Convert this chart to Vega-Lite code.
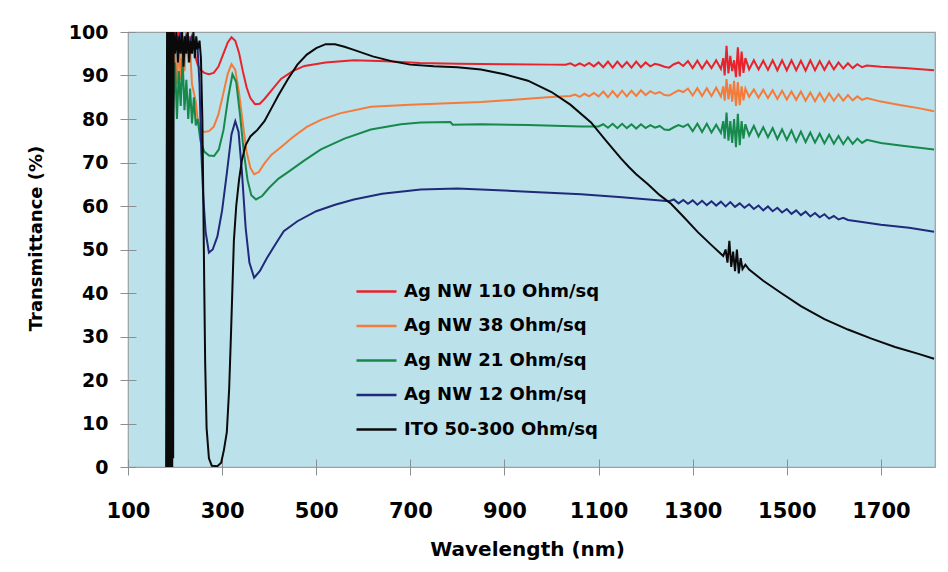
{
  "$schema": "https://vega.github.io/schema/vega-lite/v6.json",
  "width": 807,
  "height": 435,
  "autosize": {"type": "none"},
  "padding": {"left": 128, "top": 32, "right": 13, "bottom": 105},
  "background": "#ffffff",
  "config": {
    "view": {"fill": "#bbe1eb", "stroke": "#9aa0a4", "strokeWidth": 1.2},
    "axis": {
      "labelFont": "DejaVu Sans", "labelFontWeight": "bold", "labelColor": "#000000",
      "titleFont": "DejaVu Sans", "titleFontWeight": "bold", "titleColor": "#000000",
      "domain": false, "tickColor": "#8a8f93", "grid": false
    },
    "legend": {
      "labelFont": "DejaVu Sans", "labelFontWeight": "bold", "labelColor": "#000000"
    }
  },
  "datasets": {
    "red": [
      {"x":183,"y":25},{"x":186,"y":43},{"x":188,"y":95},{"x":192,"y":99},{"x":196,"y":96},{"x":200,"y":100},{"x":204,"y":97},{"x":208,"y":100},{"x":212,"y":96},{"x":216,"y":99},{"x":220,"y":97},{"x":224,"y":100},{"x":228,"y":95},{"x":232,"y":99},{"x":236,"y":96},{"x":240,"y":98},{"x":244,"y":94},{"x":248,"y":92.5},{"x":254,"y":91.3},{"x":262,"y":90.6},{"x":272,"y":90.3},{"x":282,"y":90.6},{"x":292,"y":92},{"x":302,"y":94.8},{"x":312,"y":97.6},{"x":320,"y":98.8},{"x":328,"y":98},{"x":336,"y":95.2},{"x":344,"y":91},{"x":352,"y":87.3},{"x":360,"y":84.8},{"x":370,"y":83.4},{"x":380,"y":83.5},{"x":390,"y":84.6},{"x":405,"y":86.6},{"x":425,"y":89.2},{"x":450,"y":91},{"x":475,"y":92.2},{"x":520,"y":93},{"x":580,"y":93.5},{"x":650,"y":93.3},{"x":720,"y":92.9},{"x":800,"y":92.7},{"x":900,"y":92.6},{"x":1000,"y":92.5},{"x":1030,"y":92.5},
      {"x":1040,"y":92.8},{"x":1050,"y":92.2},{"x":1060,"y":92.8},{"x":1070,"y":92.2},{"x":1080,"y":92.9},{"x":1090,"y":92.1},{"x":1100,"y":93.0},{"x":1110,"y":91.9},{"x":1120,"y":93.2},{"x":1130,"y":91.8},{"x":1140,"y":93.2},{"x":1150,"y":91.9},{"x":1160,"y":93.1},{"x":1170,"y":91.8},{"x":1180,"y":93.2},{"x":1190,"y":91.9},{"x":1200,"y":93.0},{"x":1210,"y":92.1},{"x":1220,"y":92.7},{"x":1230,"y":92.4},{"x":1240,"y":92.0},{"x":1250,"y":91.8},{"x":1260,"y":92.6},{"x":1270,"y":93.0},{"x":1280,"y":92.2},{"x":1290,"y":93.3},{"x":1300,"y":91.7},{"x":1310,"y":93.4},{"x":1320,"y":91.6},{"x":1330,"y":93.3},{"x":1340,"y":91.7},{"x":1350,"y":93.5},{"x":1360,"y":91.5},{"x":1365,"y":94},{"x":1368,"y":90},{"x":1372,"y":96.8},{"x":1376,"y":90.5},{"x":1380,"y":94.5},{"x":1384,"y":91},{"x":1388,"y":93.5},{"x":1392,"y":89.6},{"x":1396,"y":96.5},{"x":1400,"y":89.8},{"x":1404,"y":95.5},{"x":1408,"y":90.6},{"x":1412,"y":94},{"x":1420,"y":91.4},{"x":1430,"y":93.5},{"x":1440,"y":91.4},{"x":1450,"y":93.4},{"x":1460,"y":91.3},{"x":1470,"y":93.5},{"x":1480,"y":91.2},{"x":1490,"y":93.5},{"x":1500,"y":91.2},{"x":1510,"y":93.5},{"x":1520,"y":91.2},{"x":1530,"y":93.4},{"x":1540,"y":91.1},{"x":1550,"y":93.5},{"x":1560,"y":91.2},{"x":1570,"y":93.3},{"x":1580,"y":91.3},{"x":1590,"y":93.2},{"x":1600,"y":91.4},{"x":1610,"y":93.0},{"x":1620,"y":91.6},{"x":1630,"y":92.8},{"x":1640,"y":91.7},{"x":1650,"y":92.6},{"x":1660,"y":91.9},{"x":1670,"y":92.3},{"x":1700,"y":92.0},{"x":1750,"y":91.7},{"x":1813,"y":91.2}
    ],
    "orange": [
      {"x":183,"y":30},{"x":186,"y":43},{"x":188,"y":88},{"x":192,"y":92},{"x":196,"y":86},{"x":200,"y":95},{"x":204,"y":88},{"x":208,"y":97},{"x":212,"y":89},{"x":216,"y":99},{"x":220,"y":91},{"x":224,"y":100},{"x":228,"y":93},{"x":232,"y":96},{"x":236,"y":88},{"x":240,"y":86},{"x":244,"y":84},{"x":248,"y":80},{"x":254,"y":77.6},{"x":262,"y":77},{"x":272,"y":77.2},{"x":282,"y":78.2},{"x":292,"y":81},{"x":302,"y":85.6},{"x":312,"y":90.4},{"x":320,"y":92.6},{"x":328,"y":91.3},{"x":336,"y":86},{"x":344,"y":79},{"x":352,"y":72.5},{"x":360,"y":68.8},{"x":368,"y":67.3},{"x":378,"y":67.8},{"x":390,"y":69.8},{"x":405,"y":71.8},{"x":425,"y":73.5},{"x":450,"y":75.8},{"x":480,"y":78.2},{"x":510,"y":79.8},{"x":550,"y":81.3},{"x":616,"y":82.8},{"x":700,"y":83.3},{"x":780,"y":83.6},{"x":850,"y":83.9},{"x":920,"y":84.4},{"x":992,"y":85},{"x":1040,"y":85.3},
      {"x":1050,"y":85.6},{"x":1060,"y":85.1},{"x":1070,"y":85.8},{"x":1080,"y":85.2},{"x":1090,"y":86.0},{"x":1100,"y":85.2},{"x":1110,"y":86.3},{"x":1120,"y":85.0},{"x":1130,"y":86.4},{"x":1140,"y":85.1},{"x":1150,"y":86.5},{"x":1160,"y":85.2},{"x":1170,"y":86.5},{"x":1180,"y":85.3},{"x":1190,"y":86.6},{"x":1200,"y":85.5},{"x":1210,"y":86.4},{"x":1220,"y":85.8},{"x":1230,"y":86.2},{"x":1240,"y":85.5},{"x":1250,"y":85.4},{"x":1260,"y":86.0},{"x":1270,"y":86.6},{"x":1280,"y":86.2},{"x":1290,"y":87.0},{"x":1300,"y":85.4},{"x":1310,"y":87.1},{"x":1320,"y":85.3},{"x":1330,"y":87.1},{"x":1340,"y":85.3},{"x":1350,"y":87.2},{"x":1360,"y":85.2},{"x":1365,"y":87.5},{"x":1368,"y":84.2},{"x":1372,"y":89.2},{"x":1376,"y":84.5},{"x":1380,"y":88},{"x":1384,"y":84},{"x":1388,"y":88.8},{"x":1392,"y":83},{"x":1396,"y":88.5},{"x":1400,"y":83.2},{"x":1404,"y":87.5},{"x":1408,"y":84.3},{"x":1412,"y":87},{"x":1420,"y":85.1},{"x":1430,"y":86.8},{"x":1440,"y":84.9},{"x":1450,"y":86.7},{"x":1460,"y":84.8},{"x":1470,"y":86.6},{"x":1480,"y":84.6},{"x":1490,"y":86.5},{"x":1500,"y":84.5},{"x":1510,"y":86.3},{"x":1520,"y":84.4},{"x":1530,"y":86.3},{"x":1540,"y":84.2},{"x":1550,"y":86.1},{"x":1560,"y":84.1},{"x":1570,"y":86.0},{"x":1580,"y":84.1},{"x":1590,"y":85.9},{"x":1600,"y":84.2},{"x":1610,"y":85.7},{"x":1620,"y":84.2},{"x":1630,"y":85.5},{"x":1640,"y":84.3},{"x":1650,"y":85.2},{"x":1660,"y":84.4},{"x":1670,"y":84.8},{"x":1700,"y":84.0},{"x":1740,"y":83.2},{"x":1780,"y":82.5},{"x":1813,"y":81.8}
    ],
    "green": [
      {"x":183,"y":20},{"x":186,"y":32},{"x":188,"y":85},{"x":192,"y":91},{"x":196,"y":82},{"x":200,"y":93},{"x":204,"y":80},{"x":208,"y":91},{"x":212,"y":83},{"x":216,"y":94},{"x":220,"y":82},{"x":224,"y":89},{"x":228,"y":80},{"x":232,"y":87},{"x":236,"y":79},{"x":240,"y":85},{"x":244,"y":78.5},{"x":248,"y":80},{"x":254,"y":75},{"x":262,"y":72.5},{"x":272,"y":71.6},{"x":283,"y":71.5},{"x":293,"y":73},{"x":303,"y":77.5},{"x":313,"y":85},{"x":322,"y":90.3},{"x":330,"y":88.5},{"x":338,"y":81},{"x":346,"y":72.5},{"x":354,"y":66},{"x":362,"y":62.5},{"x":372,"y":61.5},{"x":385,"y":62.3},{"x":400,"y":64.2},{"x":420,"y":66.3},{"x":440,"y":67.8},{"x":475,"y":70.5},{"x":510,"y":73},{"x":560,"y":75.5},{"x":616,"y":77.6},{"x":680,"y":78.8},{"x":722,"y":79.2},{"x":785,"y":79.3},{"x":790,"y":78.7},{"x":850,"y":78.8},{"x":950,"y":78.6},{"x":1063,"y":78.3},{"x":1100,"y":78.3},
      {"x":1110,"y":78.8},{"x":1120,"y":78.0},{"x":1130,"y":78.9},{"x":1140,"y":77.9},{"x":1150,"y":78.9},{"x":1160,"y":77.9},{"x":1170,"y":78.8},{"x":1180,"y":77.8},{"x":1190,"y":78.8},{"x":1200,"y":77.9},{"x":1210,"y":78.6},{"x":1220,"y":78.0},{"x":1230,"y":78.4},{"x":1240,"y":77.6},{"x":1250,"y":77.5},{"x":1260,"y":78.1},{"x":1270,"y":78.6},{"x":1280,"y":78.2},{"x":1290,"y":78.8},{"x":1300,"y":77.2},{"x":1310,"y":78.9},{"x":1320,"y":77.0},{"x":1330,"y":78.9},{"x":1340,"y":76.9},{"x":1350,"y":78.7},{"x":1360,"y":76.8},{"x":1365,"y":79.5},{"x":1368,"y":75.5},{"x":1372,"y":81.5},{"x":1376,"y":75},{"x":1380,"y":79.5},{"x":1384,"y":74.5},{"x":1388,"y":80},{"x":1392,"y":73.5},{"x":1396,"y":81.2},{"x":1400,"y":74},{"x":1404,"y":79.5},{"x":1408,"y":75.5},{"x":1412,"y":78.8},{"x":1420,"y":76.2},{"x":1430,"y":78.4},{"x":1440,"y":76.0},{"x":1450,"y":78.1},{"x":1460,"y":75.8},{"x":1470,"y":77.9},{"x":1480,"y":75.4},{"x":1490,"y":77.6},{"x":1500,"y":75.2},{"x":1510,"y":77.4},{"x":1520,"y":74.8},{"x":1530,"y":77.1},{"x":1540,"y":74.7},{"x":1550,"y":76.9},{"x":1560,"y":74.6},{"x":1570,"y":76.6},{"x":1580,"y":74.4},{"x":1590,"y":76.4},{"x":1600,"y":74.3},{"x":1610,"y":76.1},{"x":1620,"y":74.2},{"x":1630,"y":75.8},{"x":1640,"y":74.3},{"x":1650,"y":75.5},{"x":1660,"y":74.5},{"x":1670,"y":75.2},{"x":1700,"y":74.5},{"x":1750,"y":73.8},{"x":1813,"y":73.0}
    ],
    "blue": [
      {"x":183,"y":30},{"x":186,"y":50},{"x":188,"y":95},{"x":192,"y":98},{"x":196,"y":96},{"x":200,"y":99},{"x":206,"y":97},{"x":212,"y":100},{"x":218,"y":97},{"x":224,"y":99},{"x":230,"y":97},{"x":236,"y":99},{"x":242,"y":97},{"x":248,"y":96},{"x":252,"y":88},{"x":256,"y":72},{"x":260,"y":62},{"x":265,"y":54},{"x":272,"y":49.3},{"x":280,"y":50},{"x":290,"y":53},{"x":300,"y":59},{"x":310,"y":67.5},{"x":320,"y":76.5},{"x":328,"y":79.5},{"x":335,"y":77},{"x":342,"y":68},{"x":350,"y":55},{"x":358,"y":47},{"x":368,"y":43.5},{"x":380,"y":45},{"x":395,"y":48},{"x":415,"y":51.5},{"x":431,"y":54.2},{"x":460,"y":56.5},{"x":500,"y":58.8},{"x":540,"y":60.3},{"x":580,"y":61.5},{"x":640,"y":62.8},{"x":722,"y":63.8},{"x":800,"y":64},{"x":850,"y":63.8},{"x":950,"y":63.3},{"x":1063,"y":62.7},{"x":1150,"y":62},{"x":1250,"y":61.1},
      {"x":1260,"y":61.5},{"x":1270,"y":60.6},{"x":1280,"y":61.4},{"x":1290,"y":60.5},{"x":1300,"y":61.3},{"x":1310,"y":60.3},{"x":1320,"y":61.2},{"x":1330,"y":60.2},{"x":1340,"y":61.1},{"x":1350,"y":60.1},{"x":1360,"y":61.0},{"x":1370,"y":59.9},{"x":1380,"y":60.9},{"x":1390,"y":59.8},{"x":1400,"y":60.6},{"x":1410,"y":59.6},{"x":1420,"y":60.4},{"x":1430,"y":59.3},{"x":1440,"y":60.1},{"x":1450,"y":59.0},{"x":1460,"y":59.9},{"x":1470,"y":58.8},{"x":1480,"y":59.6},{"x":1490,"y":58.5},{"x":1500,"y":59.3},{"x":1510,"y":58.2},{"x":1520,"y":59.0},{"x":1530,"y":57.9},{"x":1540,"y":58.7},{"x":1550,"y":57.6},{"x":1560,"y":58.4},{"x":1570,"y":57.4},{"x":1580,"y":58.1},{"x":1590,"y":57.1},{"x":1600,"y":57.7},{"x":1610,"y":56.9},{"x":1620,"y":57.3},{"x":1630,"y":56.8},{"x":1660,"y":56.3},{"x":1700,"y":55.7},{"x":1760,"y":55},{"x":1813,"y":54.1}
    ],
    "black": [
      {"x":181,"y":0},{"x":183,"y":100},{"x":184,"y":0},{"x":185,"y":100},{"x":186,"y":0},{"x":187,"y":100},{"x":188,"y":0},{"x":189,"y":100},{"x":190,"y":0},{"x":191,"y":100},{"x":192,"y":0},{"x":193,"y":100},{"x":194,"y":0},{"x":195,"y":100},{"x":196,"y":2},{"x":197,"y":100},{"x":200,"y":95},{"x":203,"y":100},{"x":206,"y":93},{"x":209,"y":99},{"x":212,"y":95},{"x":215,"y":100},{"x":218,"y":92},{"x":221,"y":99},{"x":224,"y":95},{"x":227,"y":100},{"x":230,"y":93},{"x":233,"y":98},{"x":236,"y":95},{"x":239,"y":100},{"x":242,"y":94},{"x":245,"y":99},{"x":248,"y":96},{"x":252,"y":98},{"x":255,"y":94},{"x":258,"y":80},{"x":260,"y":62},{"x":262,"y":42},{"x":264,"y":24},{"x":267,"y":9},{"x":272,"y":2},{"x":278,"y":0.3},{"x":290,"y":0.2},{"x":298,"y":1},{"x":304,"y":4},{"x":310,"y":8},{"x":315,"y":18},{"x":319,"y":31},{"x":325,"y":52},{"x":330,"y":60},{"x":336,"y":66},{"x":342,"y":70.5},{"x":350,"y":74},{"x":360,"y":76},{"x":375,"y":77.5},{"x":390,"y":79.5},{"x":405,"y":82.5},{"x":420,"y":85.5},{"x":440,"y":89.2},{"x":460,"y":92.5},{"x":480,"y":94.8},{"x":500,"y":96.3},{"x":520,"y":97.2},{"x":540,"y":97.2},{"x":560,"y":96.6},{"x":580,"y":95.9},{"x":620,"y":94.4},{"x":660,"y":93.3},{"x":700,"y":92.5},{"x":750,"y":92.1},{"x":800,"y":91.9},{"x":850,"y":91.4},{"x":900,"y":90.3},{"x":950,"y":88.8},{"x":1000,"y":86.2},{"x":1040,"y":83.3},{"x":1084,"y":79.2},{"x":1110,"y":75.8},{"x":1130,"y":73.2},{"x":1148,"y":70.9},{"x":1165,"y":68.9},{"x":1180,"y":67.3},{"x":1205,"y":65},{"x":1230,"y":62.5},{"x":1254,"y":60.5},{"x":1280,"y":57.6},{"x":1311,"y":54},{"x":1340,"y":51},{"x":1365,"y":48.5},{"x":1370,"y":50},{"x":1374,"y":47},{"x":1378,"y":52},{"x":1382,"y":46},{"x":1386,"y":49.5},{"x":1390,"y":45},{"x":1394,"y":50},{"x":1398,"y":44.5},{"x":1402,"y":48},{"x":1406,"y":45.5},{"x":1412,"y":46.5},{"x":1420,"y":45.4},{"x":1450,"y":42.8},{"x":1488,"y":40},{"x":1530,"y":37},{"x":1580,"y":34},{"x":1630,"y":31.6},{"x":1680,"y":29.5},{"x":1730,"y":27.6},{"x":1780,"y":26},{"x":1813,"y":24.9}
    ]
  },
  "layer": [
    {
      "data": {"name": "red"},
      "mark": {"type": "line", "strokeWidth": 2, "clip": true},
      "encoding": {
        "x": {"field": "x", "type": "quantitative",
          "scale": {"domain": [100, 1815], "nice": false, "zero": false},
          "axis": {"values": [100, 300, 500, 700, 900, 1100, 1300, 1500, 1700], "format": "d", "offset": -8, "tickSize": 16,
            "labelFontSize": 21, "labelPadding": 25, "labelFlush": false,
            "title": "Wavelength (nm)", "titleFontSize": 20, "titleX": 399, "titleY": 80}},
        "y": {"field": "y", "type": "quantitative",
          "scale": {"domain": [0, 100], "nice": false},
          "axis": {"values": [0, 10, 20, 30, 40, 50, 60, 70, 80, 90, 100], "offset": -8, "tickSize": 16,
            "labelFontSize": 19, "labelPadding": 12, "labelFlush": false,
            "title": "Transmittance (%)", "titleFontSize": 18, "titleX": -91, "titleY": 206}},
        "color": {"datum": "Ag NW 110 Ohm/sq", "type": "nominal",
          "scale": {"domain": ["Ag NW 110 Ohm/sq", "Ag NW 38 Ohm/sq", "Ag NW 21 Ohm/sq", "Ag NW 12 Ohm/sq", "ITO 50-300 Ohm/sq"],
                    "range": ["#e8232b", "#f47b3a", "#17894a", "#1f2a7a", "#0a0a0a"]},
          "legend": {"title": null, "orient": "none", "legendX": 227, "legendY": 238, "padding": 0,
            "symbolType": "stroke", "symbolSize": 1600, "symbolStrokeWidth": 2.5,
            "labelFontSize": 18, "labelOffset": 6, "labelLimit": 0, "rowPadding": 3.5}}
      }
    },
    {
      "data": {"name": "orange"},
      "mark": {"type": "line", "strokeWidth": 2, "clip": true},
      "encoding": {
        "x": {"field": "x", "type": "quantitative"},
        "y": {"field": "y", "type": "quantitative"},
        "color": {"datum": "Ag NW 38 Ohm/sq", "type": "nominal"}
      }
    },
    {
      "data": {"name": "green"},
      "mark": {"type": "line", "strokeWidth": 2, "clip": true},
      "encoding": {
        "x": {"field": "x", "type": "quantitative"},
        "y": {"field": "y", "type": "quantitative"},
        "color": {"datum": "Ag NW 21 Ohm/sq", "type": "nominal"}
      }
    },
    {
      "data": {"name": "blue"},
      "mark": {"type": "line", "strokeWidth": 2, "clip": true},
      "encoding": {
        "x": {"field": "x", "type": "quantitative"},
        "y": {"field": "y", "type": "quantitative"},
        "color": {"datum": "Ag NW 12 Ohm/sq", "type": "nominal"}
      }
    },
    {
      "data": {"name": "black"},
      "mark": {"type": "line", "strokeWidth": 2, "clip": true},
      "encoding": {
        "x": {"field": "x", "type": "quantitative"},
        "y": {"field": "y", "type": "quantitative"},
        "color": {"datum": "ITO 50-300 Ohm/sq", "type": "nominal"}
      }
    }
  ]
}
